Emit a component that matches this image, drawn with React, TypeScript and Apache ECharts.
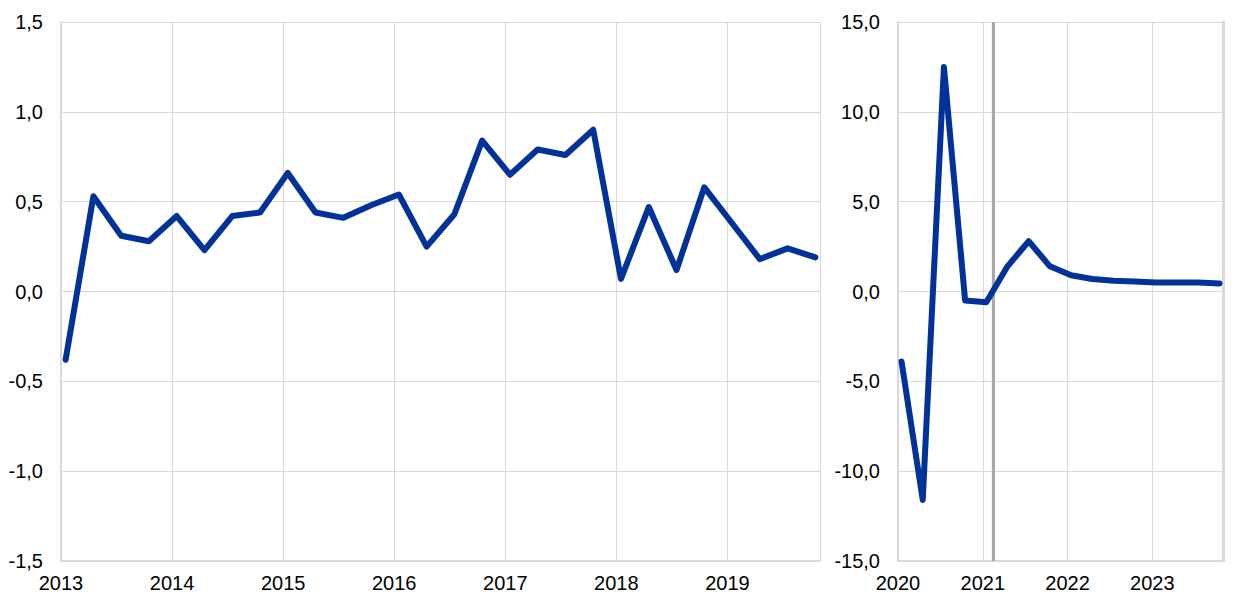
import React, { useEffect, useRef } from "react";
import * as echarts from "echarts";

// Left panel: quarterly, 2013Q1 - 2019Q4
const leftQuarters: string[] = [];
for (let y = 2013; y <= 2019; y++) for (let q = 1; q <= 4; q++) leftQuarters.push(`${y}Q${q}`);
const leftValues = [
  -0.38, 0.53, 0.31, 0.28, 0.42, 0.23, 0.42, 0.44, 0.66, 0.44, 0.41, 0.48, 0.54, 0.25,
  0.43, 0.84, 0.65, 0.79, 0.76, 0.9, 0.07, 0.47, 0.12, 0.58, 0.38, 0.18, 0.24, 0.19,
];

// Right panel: quarterly, 2020Q1 - 2023Q4
const rightQuarters: string[] = [];
for (let y = 2020; y <= 2023; y++) for (let q = 1; q <= 4; q++) rightQuarters.push(`${y}Q${q}`);
const rightValues = [
  -3.9, -11.6, 12.5, -0.5, -0.6, 1.4, 2.8, 1.4, 0.9, 0.7, 0.6, 0.55, 0.5, 0.5, 0.5, 0.45,
];

const leftYTicks = [-1.5, -1.0, -0.5, 0.0, 0.5, 1.0, 1.5];
const rightYTicks = [-15, -10, -5, 0, 5, 10, 15];
const projectionStart = 2021 + 1.5 / 12;

const quarterToX = (label: string) => {
  const y = parseInt(label.slice(0, 4), 10);
  const q = parseInt(label.slice(5), 10);
  return y + (q - 1) * 0.25 + 0.5 / 12;
};

const FONT = "'Liberation Sans', Arial, sans-serif";
const GRID = "#d9d9d9";
const BLUE = "#003299";

const fmtY = (v: number) => v.toFixed(1).replace(".", ",");

export default function App() {
  const ref = useRef<HTMLDivElement>(null);
  useEffect(() => {
    if (!ref.current) return;
    const chart = echarts.init(ref.current, undefined, { renderer: "svg" });
    const xAxisBase = (min: number, max: number, gridIndex: number) => ({
      type: "value" as const,
      gridIndex,
      min,
      max,
      interval: 1,
      axisLine: { show: true, onZero: false, lineStyle: { color: GRID, width: 2 } },
      axisTick: { show: false },
      splitLine: { show: true, lineStyle: { color: GRID, width: 1 } },
      axisLabel: {
        color: "#000",
        fontFamily: FONT,
        fontSize: 20,
        margin: 12,
        showMaxLabel: false,
        formatter: (v: number) => (Number.isInteger(v) ? String(v) : ""),
      },
    });
    const yAxisBase = (ticks: number[], interval: number, gridIndex: number) => ({
      type: "value" as const,
      gridIndex,
      min: ticks[0],
      max: ticks[ticks.length - 1],
      interval,
      axisLine: { show: true, lineStyle: { color: GRID, width: 2 } },
      axisTick: { show: false },
      splitLine: { show: true, lineStyle: { color: GRID, width: 1 } },
      axisLabel: {
        color: "#000",
        fontFamily: FONT,
        fontSize: 20,
        margin: 18,
        formatter: (v: number) => fmtY(v),
      },
    });
    chart.setOption({
      animation: false,
      backgroundColor: "#fff",
      grid: [
        { left: 61, right: 420, top: 22, bottom: 47 },
        { left: 898, right: 17, top: 22, bottom: 47 },
      ],
      xAxis: [xAxisBase(2013, 2019 + 10 / 12, 0), xAxisBase(2020, 2023 + 10 / 12, 1)],
      yAxis: [
        yAxisBase(leftYTicks, 0.5, 0),
        yAxisBase(rightYTicks, 5, 1),
        {
          type: "value",
          gridIndex: 1,
          position: "right",
          min: -15,
          max: 15,
          interval: 5,
          axisLine: { show: true, lineStyle: { color: GRID, width: 3 } },
          axisTick: { show: false },
          axisLabel: { show: false },
          splitLine: { show: false },
        },
      ],
      series: [
        {
          type: "line",
          xAxisIndex: 0,
          yAxisIndex: 0,
          data: leftQuarters.map((q, i) => [quarterToX(q), leftValues[i]]),
          showSymbol: false,
          lineStyle: { color: BLUE, width: 6, cap: "round", join: "round" },
          z: 3,
        },
        {
          type: "line",
          xAxisIndex: 1,
          yAxisIndex: 1,
          data: [
            [projectionStart, rightYTicks[0]],
            [projectionStart, rightYTicks[rightYTicks.length - 1]],
          ],
          showSymbol: false,
          lineStyle: { color: "#a6a6a6", width: 3 },
          z: 2,
          silent: true,
        },
        {
          type: "line",
          xAxisIndex: 1,
          yAxisIndex: 1,
          data: rightQuarters.map((q, i) => [quarterToX(q), rightValues[i]]),
          showSymbol: false,
          lineStyle: { color: BLUE, width: 6, cap: "round", join: "round" },
          z: 3,
        },
      ],
    });
    return () => chart.dispose();
  }, []);
  return (
    <div
      ref={ref}
      style={{ position: "fixed", left: 0, top: 0, width: 1240, height: 608, background: "#fff" }}
    />
  );
}
